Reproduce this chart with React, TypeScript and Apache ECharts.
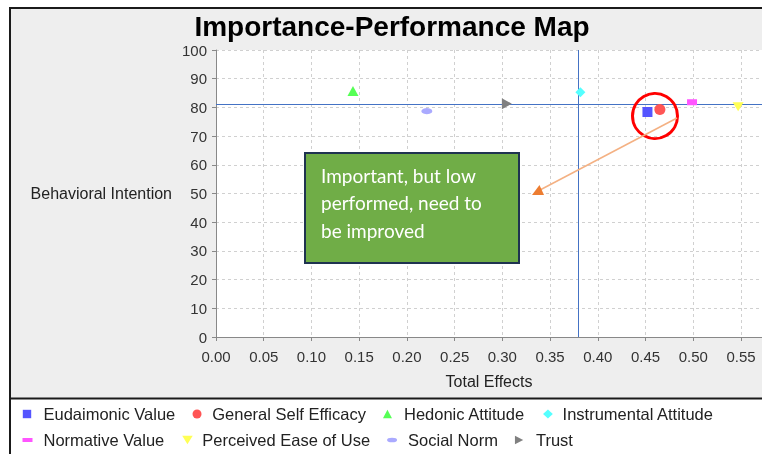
import React, { useEffect, useRef } from "react";
import * as echarts from "echarts";

const seriesNames = [
  "Eudaimonic Value",
  "General Self Efficacy",
  "Hedonic Attitude",
  "Instrumental Attitude",
  "Normative Value",
  "Perceived Ease of Use",
  "Social Norm",
  "Trust",
];
// Total effects (importance)
const totalEffects = [0.452, 0.465, 0.1435, 0.3817, 0.4987, 0.547, 0.2209, 0.3047];
// Performance
const performance = [78.4, 79.3, 85.7, 85.3, 81.8, 80.2, 78.7, 81.3];
const colors = ["#5555ff", "#ff5555", "#55ff55", "#55ffff", "#ff55ff", "#ffff55", "#aaaaff", "#808080"];
const meanImportance = 0.3783;
const meanPerformance = 81.1;
const xTicks = { min: 0, max: 0.572, interval: 0.05 };
const yTicks = { min: 0, max: 100, interval: 10 };
const legendRows = [seriesNames.slice(0, 4), seriesNames.slice(4, 8)];

const symbols = [
  "rect",
  "circle",
  "triangle",
  "diamond",
  "rect",
  "path://M0,0H10L5,9Z",
  "circle",
  "path://M0,0L10,5.5L0,11Z",
];
const symbolSizes: any[] = [10, 11, [11, 10], 10, [10, 6], [11, 9], [11, 6], [10, 11]];
// legend icons drawn in a 16x9 box (degenerate corner moves fix the box)
const box = (d: string) => `path://M0,0L0,0M16,9L16,9${d}`;
const legendIcons = [
  box("M0.3,0.3H8.7V8.7H0.3Z"),
  box("M0.3,4.5A5.2,5.2 0 1,1 10.7,4.5A5.2,5.2 0 1,1 0.3,4.5Z"),
  box("M4.5,0.3L9,8.7L0,8.7Z"),
  box("M6.3,-0.3L11.5,4.5L6.3,9.3L1.1,4.5Z"),
  box("M0,2.5H10V6.5H0Z"),
  box("M1,0.3H11.5L6.2,8.7Z"),
  box("M0,4.5A5,2.3 0 1,1 10,4.5A5,2.3 0 1,1 0,4.5Z"),
  box("M0,0.3L8.3,4.5L0,8.7Z"),
];

const FONT = '"Liberation Sans", Arial, sans-serif';

export default function App() {
  const ref = useRef<HTMLDivElement>(null);
  useEffect(() => {
    const chart = echarts.init(ref.current!, null, { renderer: "svg" });
    const series: any[] = seriesNames.map((name, i) => ({
      type: "scatter",
      name,
      data: [[totalEffects[i], performance[i]]],
      symbol: symbols[i],
      symbolSize: symbolSizes[i],
      itemStyle: { color: colors[i], opacity: 1 },
      z: 5,
    }));
    series.push({
      type: "scatter",
      name: "ref",
      data: [],
      silent: true,
      markLine: {
        silent: true,
        symbol: "none",
        label: { show: false },
        lineStyle: { color: "#4472c4", width: 1, type: "solid" },
        data: [{ xAxis: meanImportance }, { yAxis: meanPerformance }],
      },
      z: 3,
    });
    const legendTops = [405.5, 431.5];
    const legend = legendRows.map((row, r) => ({
      left: 22.5,
      top: legendTops[r],
      padding: 0,
      itemWidth: 16,
      itemHeight: 9,
      itemGap: 17,
      selectedMode: false,
      textStyle: { fontSize: 16.5, color: "#222", fontFamily: FONT },
      data: row.map((name) => {
        const i = seriesNames.indexOf(name);
        return { name, icon: legendIcons[i], itemStyle: { color: colors[i] } };
      }),
    }));
    chart.setOption({
      animation: false,
      textStyle: { fontFamily: FONT },
      grid: {
        left: 216,
        top: 50,
        right: 0,
        bottom: 117,
        show: true,
        backgroundColor: "#ffffff",
        borderWidth: 0,
      },
      xAxis: {
        type: "value",
        min: xTicks.min,
        max: xTicks.max,
        interval: xTicks.interval,
        name: "Total Effects",
        nameLocation: "middle",
        nameGap: 36,
        nameTextStyle: { fontSize: 16, color: "#222", fontFamily: FONT },
        axisLine: { show: true, lineStyle: { color: "#888" } },
        axisTick: { show: true, length: 4, lineStyle: { color: "#888" } },
        axisLabel: {
          fontSize: 15,
          color: "#333",
          margin: 12,
          showMaxLabel: false,
          fontFamily: FONT,
          formatter: (v: number) => v.toFixed(2),
        },
        splitLine: { show: true, lineStyle: { color: "#d0d0d0", type: [3, 3] } },
      },
      yAxis: {
        type: "value",
        min: yTicks.min,
        max: yTicks.max,
        interval: yTicks.interval,
        name: "Behavioral Intention",
        nameLocation: "middle",
        nameRotate: 0,
        nameGap: 44,
        nameTextStyle: { fontSize: 16, color: "#222", fontFamily: FONT },
        axisLine: { show: true, lineStyle: { color: "#888" } },
        axisTick: { show: true, length: 4, lineStyle: { color: "#888" } },
        axisLabel: { fontSize: 15, color: "#333", margin: 9, fontFamily: FONT },
        splitLine: { show: true, lineStyle: { color: "#d0d0d0", type: [3, 3] } },
      },
      legend,
      graphic: [
        {
          type: "rect",
          z: -100,
          silent: true,
          shape: { x: 10, y: 8, width: 800, height: 500 },
          style: { fill: "#ffffff", stroke: "#1a1a1a", lineWidth: 2 },
        },
        {
          type: "rect",
          z: -99,
          silent: true,
          shape: { x: 11, y: 9, width: 800, height: 389 },
          style: { fill: "#eeeeee" },
        },
        {
          type: "line",
          z: -98,
          silent: true,
          shape: { x1: 10, y1: 398.5, x2: 800, y2: 398.5 },
          style: { stroke: "#1a1a1a", lineWidth: 2 },
        },
        {
          type: "text",
          z: 10,
          x: 392,
          y: 26,
          style: {
            text: "Importance-Performance Map",
            font: 'bold 28px "Liberation Sans", Arial, sans-serif',
            fill: "#000",
            align: "center",
            verticalAlign: "middle",
          },
        },
        {
          type: "circle",
          z: 50,
          silent: true,
          shape: { cx: 655, cy: 116, r: 22.5 },
          style: { fill: "none", stroke: "#ff0000", lineWidth: 3 },
        },
        {
          type: "line",
          z: 50,
          silent: true,
          shape: { x1: 677, y1: 118, x2: 540, y2: 190 },
          style: { stroke: "#f4b183", lineWidth: 1.5 },
        },
        {
          type: "polygon",
          z: 50,
          silent: true,
          shape: { points: [[532, 195], [544, 195], [539.5, 185]] },
          style: { fill: "#ed7d31" },
        },
        {
          type: "rect",
          z: 50,
          silent: true,
          shape: { x: 305, y: 153, width: 214, height: 110 },
          style: { fill: "#70ad47", stroke: "#1f3350", lineWidth: 2 },
        },
        {
          type: "text",
          z: 51,
          x: 321,
          y: 202.5,
          silent: true,
          style: {
            text: "Important, but low\nperformed, need to\nbe improved",
            font: '19px Lato, "Open Sans", sans-serif',
            lineHeight: 27.5,
            fill: "#ffffff",
            align: "left",
            verticalAlign: "middle",
          },
        },
      ],
      series,
    });
    return () => chart.dispose();
  }, []);
  return <div ref={ref} style={{ width: 762, height: 454, position: "fixed", left: 0, top: 0 }} />;
}
